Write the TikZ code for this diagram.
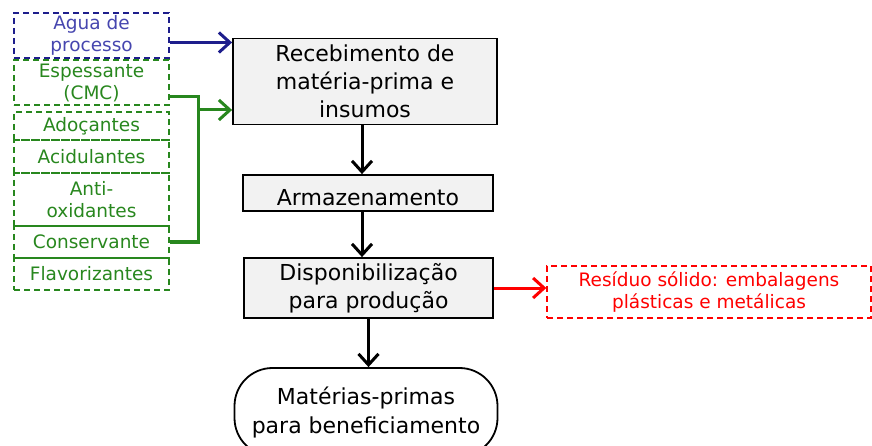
\documentclass[tikz,border=0pt]{standalone}
\usepackage{fontspec}
\setmainfont{DejaVu Sans}
\usetikzlibrary{arrows.meta}
\definecolor{verde}{RGB}{40,135,30}
\definecolor{azul}{RGB}{30,30,140}
\definecolor{azultxt}{RGB}{70,70,175}
\tikzset{
  etapa/.style={draw, fill=gray!10, line width=1.8pt, align=center, inner sep=1pt, font=\fontsize{22}{28}\selectfont},
  insumo/.style={draw=verde, dash pattern=on 6pt off 4pt, line width=1.4pt, text=verde, align=center, minimum width=155pt, inner sep=1pt, font=\fontsize{18.5}{22}\selectfont},
  seta/.style={-{Straight Barb[length=11pt,width=20pt]}, line width=3pt},
}
\begin{document}
\begin{tikzpicture}[x=1pt,y=-1pt]
\useasboundingbox (0,0) rectangle (872,446);
% insumos
\node at (91.5,35.5) [insumo, draw=azul, text=azultxt, minimum height=45pt] (agua) {Agua de\\processo};
\node at (91.5,82.5) [insumo, minimum height=45pt] (espessante) {Espessante\\(CMC)};
\node at (91.5,126) [insumo, minimum height=28pt] (adocantes) {Adoçantes};
\node at (91.5,156.5) [insumo, minimum height=33pt] (acidulantes) {Acidulantes};
\node at (91.5,199.5) [insumo, minimum height=53pt] (antiox) {Anti-\\oxidantes};
\node at (91.5,242) [insumo, minimum height=32pt] (conservante) {Conservante};
\node at (91.5,274) [insumo, minimum height=32pt] (flavor) {Flavorizantes};
% etapas
\node at (365,81.5) [etapa, minimum width=264pt, minimum height=86pt] (receb) {Recebimento de\\matéria-prima e\\insumos};
\node at (368,193) [etapa, minimum width=250pt, minimum height=36pt, text height=26pt, text depth=0pt] (armaz) {Armazenamento};
\node at (368.5,288) [etapa, minimum width=249pt, minimum height=60pt] (dispon) {Disponibilização\\para produção};
\node at (366,412) [draw, line width=1.8pt, rounded corners=38pt, align=center, minimum width=263pt, minimum height=88pt, font=\fontsize{22}{29}\selectfont] (materias) {Matérias-primas\\para beneficiamento};
\node at (709,292) [draw=red, dash pattern=on 6pt off 4pt, line width=1.4pt, text=red, align=center, minimum width=324pt, minimum height=52pt, inner sep=1pt, font=\fontsize{18.5}{22}\selectfont] (residuo) {Resíduo sólido: embalagens\\plásticas e metálicas};
% conexoes
\draw[seta, azul] ([yshift=-7pt]agua.east) -- ([yshift=-7pt]agua.east -| receb.west);
\draw[line width=3.2pt, verde] ([yshift=-14pt]espessante.east) -- ++(29,0) coordinate (juncao) |- (conservante.east);
\draw[seta, verde] (juncao |- 0,110) -- (receb.west |- 0,110);
\draw[seta] ([xshift=-3pt]receb.south) -- ([xshift=-3pt]receb.south |- armaz.north);
\draw[seta] ([xshift=-6pt]armaz.south) -- ([xshift=-6pt]armaz.south |- dispon.north);
\draw[seta] (dispon.south) -- (dispon.south |- materias.north);
\draw[seta, red] (dispon.east) -- (dispon.east -| residuo.west);
\end{tikzpicture}
\end{document}
